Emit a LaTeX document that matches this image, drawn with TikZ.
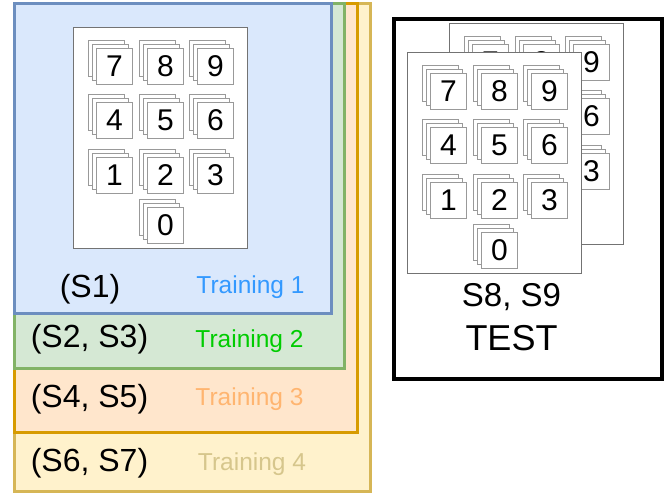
\documentclass[tikz,border=0pt]{standalone}
\usepackage{fontspec}
\setmainfont{Liberation Sans}
\definecolor{bluefill}{HTML}{DAE8FC}
\definecolor{bluedraw}{HTML}{6C8EBF}
\definecolor{greenfill}{HTML}{D5E8D4}
\definecolor{greendraw}{HTML}{82B366}
\definecolor{orangefill}{HTML}{FFE6CC}
\definecolor{orangedraw}{HTML}{D79B00}
\definecolor{yellowfill}{HTML}{FFF2CC}
\definecolor{yellowdraw}{HTML}{D6B656}
\definecolor{tblue}{HTML}{3399FF}
\definecolor{tgreen}{HTML}{00CC00}
\definecolor{torange}{HTML}{FFB570}
\definecolor{tyellow}{HTML}{D6C68C}
\def\fulllist{7/23/21, 8/74/21, 9/124/21, 4/23/75, 5/74/75, 6/124/75, 1/23/130, 2/74/130, 3/124/130, 0/74/180}
\def\backlist{7/23/21, 8/74/21, 9/124/21, 6/124/75, 3/124/130}
\tikzset{
  card/.style={draw=black!40, fill=white, line width=0.8pt, minimum size=36pt,
    inner sep=0pt, anchor=north west, font=\fontsize{30}{30}\selectfont},
  paper/.style={draw=black!55, fill=white, line width=0.8pt, minimum width=174pt,
    minimum height=221pt, anchor=north west, inner sep=0pt},
  setbox/.style={line width=3pt, anchor=north west, inner sep=0pt},
  setlabel/.style={anchor=base, inner sep=0pt, font=\fontsize{32}{32}\selectfont},
  trainlabel/.style={anchor=base, inner sep=0pt, font=\fontsize{24.5}{24.5}\selectfont},
  pics/digitpaper/.style={code={
    \node[paper] (-p) at (0,0) {};
    \foreach \d/\cx/\cy in #1 {
      \node[card] (-b\d) at (\cx-8.4,\cy-8.4) {};
      \node[card] (-m\d) at (\cx-4.2,\cy-4.2) {};
      \node[card] (-c\d) at (\cx,\cy) {\d};
    }
  }}
}
\begin{document}
\begin{tikzpicture}[x=1pt,y=-1pt]
\useasboundingbox (0,0) rectangle (665,503);
% nested training boxes
\node[setbox, draw=yellowdraw, fill=yellowfill, minimum width=356pt, minimum height=488pt] (t4) at (13,2) {};
\node[setbox, draw=orangedraw, fill=orangefill, minimum width=342.5pt, minimum height=429pt] (t3) at (13,2) {};
\node[setbox, draw=greendraw, fill=greenfill, minimum width=329.5pt, minimum height=365pt] (t2) at (13,2) {};
\node[setbox, draw=bluedraw, fill=bluefill, minimum width=317pt, minimum height=310pt] (t1) at (13,2) {};
% training paper
\pic (train) at (73,27) {digitpaper=\fulllist};
% labels
\node[setlabel] (s1) at (90,297) {(S1)};
\node[trainlabel, text=tblue] (l1) at (250.5,293) {Training 1};
\node[setlabel] (s23) at (89.5,347) {(S2, S3)};
\node[trainlabel, text=tgreen] (l2) at (249.5,347) {Training 2};
\node[setlabel] (s45) at (89.5,407) {(S4, S5)};
\node[trainlabel, text=torange] (l3) at (249.5,405) {Training 3};
\node[setlabel] (s67) at (89.5,471) {(S6, S7)};
\node[trainlabel, text=tyellow] (l4) at (252,470) {Training 4};
% test box
\node[setbox, draw=black, line width=4pt, minimum width=268pt, minimum height=360pt] (test) at (392,17) {};
\pic (testback) at (449,23) {digitpaper=\backlist};
\pic (testfront) at (407,52) {digitpaper=\fulllist};
\node[anchor=base, inner sep=0pt, font=\fontsize{33}{33}\selectfont] (s89) at (511.5,306) {S8, S9};
\node[anchor=base, inner sep=0pt, font=\fontsize{36}{36}\selectfont] (testlbl) at (511.5,350) {TEST};
\end{tikzpicture}
\end{document}
